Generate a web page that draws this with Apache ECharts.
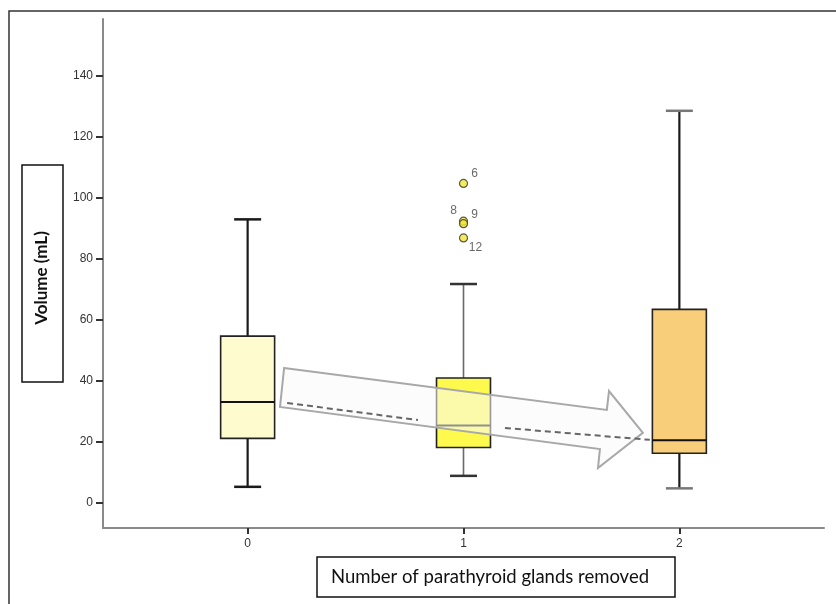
<!DOCTYPE html>
<html>
<head>
<meta charset="utf-8">
<script src="https://cdn.jsdelivr.net/npm/echarts@6/dist/echarts.min.js"></script>
<style>
html,body{margin:0;padding:0;background:#fff;}
#c{width:836px;height:604px;}
</style>
</head>
<body>
<div id="c"></div>
<script>
// ---- data ----
const categories = [0, 1, 2];
const whiskerLow = [5.3, 8.9, 4.8];
const q1 = [21.2, 18.2, 16.3];
const median = [33.1, 25.4, 20.6];
const q3 = [54.7, 41.0, 63.5];
const whiskerHigh = [93.0, 71.8, 128.6];
const outlierX = [1, 1, 1, 1];
const outlierY = [104.8, 92.4, 91.6, 86.9];
const outlierLabels = ['6', '8', '9', '12'];
const yTicks = [0, 20, 40, 60, 80, 100, 120, 140];
const xTicks = [0, 1, 2];
// trend arrow annotation (data units)
const arrowX = [0.169, 1.664, 1.674, 1.831, 1.623, 1.632, 0.150];
const arrowY = [44.3, 30.5, 36.7, 23.0, 11.5, 17.7, 31.5];
const dashAX = [0.183, 0.789];
const dashAY = [32.8, 27.2];
const dashBX = [1.192, 1.863];
const dashBY = [24.6, 20.7];

const boxFill = ['#FEFCCF', '#FDFA4D', '#F8CE7A'];
const whiskerColor = ['#1a1a1a', '#6a6a6a', '#1a1a1a'];
const whiskerWidth = [2.2, 1.6, 2.2];
const capColor = ['#1a1a1a', '#333333', '#777777'];

const boxData = categories.map((c, i) => [c, whiskerLow[i], q1[i], median[i], q3[i], whiskerHigh[i]]);
const outlierData = outlierX.map((x, i) => [x, outlierY[i], outlierLabels[i]]);
const labelOffsets = [[11, -10], [-10, -11], [11, -9], [12, 10]];

const chart = echarts.init(document.getElementById('c'));
chart.setOption({
  animation: false,
  backgroundColor: '#fff',
  grid: {left: 103, right: 12, top: 19, bottom: 76, containLabel: false},
  xAxis: {
    type: 'value', min: -0.67, max: 2.67,
    splitLine: {show: false},
    axisLine: {show: true, onZero: false, lineStyle: {color: '#8a8a8a', width: 2}},
    axisTick: {show: true, customValues: xTicks, length: 6, lineStyle: {color: '#333', width: 2}},
    axisLabel: {customValues: xTicks, color: '#333', fontFamily: 'Liberation Sans', fontSize: 12, margin: 10}
  },
  yAxis: {
    type: 'value', min: -8.2, max: 158.7,
    splitLine: {show: false},
    axisLine: {show: true, onZero: false, lineStyle: {color: '#8a8a8a', width: 2}},
    axisTick: {show: true, customValues: yTicks, length: 7, lineStyle: {color: '#333', width: 2}},
    axisLabel: {customValues: yTicks, color: '#333', fontFamily: 'Liberation Sans', fontSize: 12, margin: 10}
  },
  graphic: [
    {type: 'rect', shape: {x: 9, y: 11, width: 900, height: 700}, style: {fill: 'none', stroke: '#333', lineWidth: 1.5}, silent: true, z: -10},
    {type: 'rect', shape: {x: 22, y: 165, width: 41, height: 217}, style: {fill: '#fff', stroke: '#111', lineWidth: 1.5}, z: 5},
    {type: 'text', x: 42, y: 278, rotation: Math.PI / 2, style: {text: 'Volume (mL)', fontFamily: 'Lato', fontWeight: 'bold', fontSize: 17, fill: '#111', align: 'center', verticalAlign: 'middle'}, z: 6},
    {type: 'rect', shape: {x: 317, y: 557, width: 358, height: 40}, style: {fill: '#fff', stroke: '#111', lineWidth: 1.5}, z: 5},
    {type: 'text', x: 490, y: 577, style: {text: 'Number of parathyroid glands removed', fontFamily: 'Lato', fontSize: 18.5, fill: '#111', align: 'center', verticalAlign: 'middle'}, z: 6}
  ],
  series: [
    {
      type: 'custom',
      z: 2,
      data: boxData,
      encode: {x: 0, y: [1, 2, 3, 4, 5]},
      renderItem: function (params, api) {
        const i = params.dataIndex;
        const x = api.value(0);
        const halfW = api.size([0.125, 0])[0];
        const capW = api.size([0.0625, 0])[0];
        const pLow = api.coord([x, api.value(1)]);
        const pQ1 = api.coord([x, api.value(2)]);
        const pMed = api.coord([x, api.value(3)]);
        const pQ3 = api.coord([x, api.value(4)]);
        const pHigh = api.coord([x, api.value(5)]);
        const cx = pQ1[0];
        const wStyle = {stroke: whiskerColor[i], lineWidth: whiskerWidth[i]};
        return {
          type: 'group',
          children: [
            {type: 'line', shape: {x1: cx, y1: pQ3[1], x2: cx, y2: pHigh[1]}, style: wStyle},
            {type: 'line', shape: {x1: cx, y1: pQ1[1], x2: cx, y2: pLow[1]}, style: wStyle},
            {type: 'line', shape: {x1: cx - capW, y1: pHigh[1], x2: cx + capW, y2: pHigh[1]}, style: {stroke: capColor[i], lineWidth: 2.5}},
            {type: 'line', shape: {x1: cx - capW, y1: pLow[1], x2: cx + capW, y2: pLow[1]}, style: {stroke: capColor[i], lineWidth: 2.5}},
            {type: 'rect', shape: {x: cx - halfW, y: pQ3[1], width: 2 * halfW, height: pQ1[1] - pQ3[1]}, style: {fill: boxFill[i], stroke: '#222', lineWidth: 1.6}},
            {type: 'line', shape: {x1: cx - halfW, y1: pMed[1], x2: cx + halfW, y2: pMed[1]}, style: {stroke: '#111', lineWidth: 2}}
          ]
        };
      }
    },
    {
      type: 'scatter',
      z: 3,
      data: outlierData,
      symbol: 'circle',
      symbolSize: 8,
      itemStyle: {color: '#F4E634', borderColor: '#333', borderWidth: 1.2},
      label: {
        show: true,
        formatter: function (p) { return p.data[2]; },
        color: '#444', fontFamily: 'Liberation Sans', fontSize: 12,
        position: 'inside'
      },
      labelLayout: function (p) {
        const o = labelOffsets[p.dataIndex];
        return {x: p.rect.x + p.rect.width / 2 + o[0], y: p.rect.y + p.rect.height / 2 + o[1], align: 'center', verticalAlign: 'middle'};
      }
    },
    {
      type: 'custom',
      z: 4,
      data: [0],
      renderItem: function (params, api) {
        const pts = arrowX.map((x, k) => api.coord([x, arrowY[k]]));
        const a = [api.coord([dashAX[0], dashAY[0]]), api.coord([dashAX[1], dashAY[1]])];
        const b = [api.coord([dashBX[0], dashBY[0]]), api.coord([dashBX[1], dashBY[1]])];
        const dash = {stroke: '#666', lineWidth: 2, lineDash: [6, 4]};
        return {
          type: 'group',
          children: [
            {type: 'polygon', shape: {points: pts}, style: {fill: 'rgba(250,250,250,0.55)', stroke: '#a8a8a8', lineWidth: 2}},
            {type: 'line', shape: {x1: a[0][0], y1: a[0][1], x2: a[1][0], y2: a[1][1]}, style: dash},
            {type: 'line', shape: {x1: b[0][0], y1: b[0][1], x2: b[1][0], y2: b[1][1]}, style: dash}
          ]
        };
      }
    }
  ]
});
</script>
</body>
</html>
